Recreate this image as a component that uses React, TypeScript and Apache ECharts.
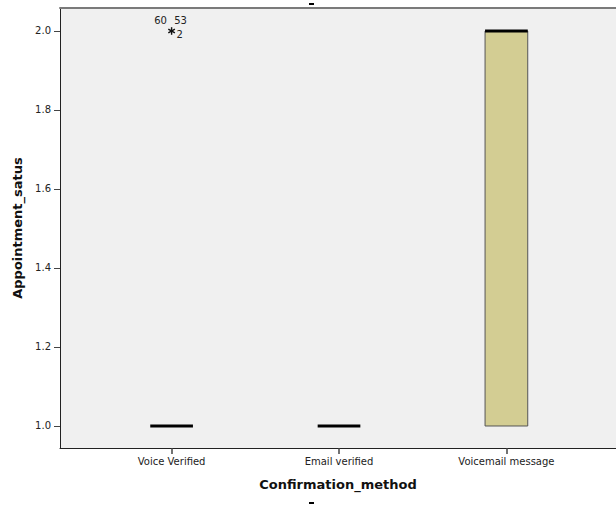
import React, { useEffect, useRef } from 'react';
import * as echarts from 'echarts';

const categories = ['Voice Verified', 'Email verified', 'Voicemail message'];
// per category: [min, q1, median, q3, max]
const boxStats = [
  [1, 1, 1, 1, 1],
  [1, 1, 1, 1, 1],
  [1, 1, 2, 2, 2],
];
const outlierCategory = [0];
const outlierValues = [2];
const outlierIds = [['60', '53', '2']];
const yTicks = [1.0, 1.2, 1.4, 1.6, 1.8, 2.0];
const xTicks = [0, 1, 2];

const FONT = 'DejaVu Sans';
const BOX_W = 0.255;

export default function App() {
  const ref = useRef<HTMLDivElement>(null);
  useEffect(() => {
    if (!ref.current) return;
    const chart = echarts.init(ref.current, undefined, { renderer: 'svg' });
    const option: any = {
      animation: false,
      backgroundColor: '#ffffff',
      grid: {
        left: 60,
        top: 8,
        right: 0,
        bottom: 57,
        show: true,
        backgroundColor: '#f0f0f0',
        borderWidth: 0,
        borderColor: '#f0f0f0',
      },
      xAxis: [
        {
          type: 'value',
          min: -0.6667,
          max: 2.6547,
          position: 'bottom',
          name: 'Confirmation_method',
          nameLocation: 'middle',
          nameGap: 30,
          nameTextStyle: { fontFamily: FONT, fontSize: 13, fontWeight: 'bold', color: '#111' },
          splitLine: { show: false },
          axisLine: { show: true, onZero: false, lineStyle: { color: '#222', width: 1 } },
          axisTick: { show: true, customValues: xTicks, length: 6, lineStyle: { color: '#444', width: 1.5 } },
          axisLabel: {
            customValues: xTicks,
            margin: 8,
            fontFamily: FONT,
            fontSize: 10,
            color: '#222',
            formatter: (v: number) => categories[Math.round(v)] ?? '',
          },
        },
        {
          type: 'value',
          min: -0.6667,
          max: 2.6547,
          position: 'top',
          splitLine: { show: false },
          axisLine: { show: true, onZero: false, lineStyle: { color: '#7a7a7a', width: 2 } },
          axisTick: { show: false },
          axisLabel: { show: false },
        },
      ],
      yAxis: {
        type: 'value',
        min: 0.9443,
        max: 2.0582,
        name: 'Appointment_satus',
        nameLocation: 'middle',
        nameGap: 33,
        nameTextStyle: { fontFamily: FONT, fontSize: 13, fontWeight: 'bold', color: '#111' },
        splitLine: { show: false },
        axisLine: { show: true, onZero: false, lineStyle: { color: '#222', width: 1 } },
        axisTick: { show: true, customValues: yTicks, length: 6, lineStyle: { color: '#444', width: 1 } },
        axisLabel: {
          customValues: yTicks,
          margin: 9,
          fontFamily: FONT,
          fontSize: 10,
          color: '#222',
          formatter: (v: number) => v.toFixed(1),
        },
      },
      series: [
        {
          type: 'custom',
          xAxisIndex: 0,
          data: boxStats.map((s, i) => [i, ...s]),
          renderItem: (params: any, api: any) => {
            const x = api.value(0);
            const mn = api.value(1);
            const q1 = api.value(2);
            const md = api.value(3);
            const q3 = api.value(4);
            const mx = api.value(5);
            const h = BOX_W / 2;
            const children: any[] = [];
            if (mx > q3) {
              const a = api.coord([x, q3]);
              const b = api.coord([x, mx]);
              const l = api.coord([x - h / 2, mx]);
              const r = api.coord([x + h / 2, mx]);
              children.push({ type: 'line', shape: { x1: a[0], y1: a[1], x2: b[0], y2: b[1] }, style: { stroke: '#333', lineWidth: 1 } });
              children.push({ type: 'line', shape: { x1: l[0], y1: l[1], x2: r[0], y2: r[1] }, style: { stroke: '#333', lineWidth: 1 } });
            }
            if (mn < q1) {
              const a = api.coord([x, q1]);
              const b = api.coord([x, mn]);
              const l = api.coord([x - h / 2, mn]);
              const r = api.coord([x + h / 2, mn]);
              children.push({ type: 'line', shape: { x1: a[0], y1: a[1], x2: b[0], y2: b[1] }, style: { stroke: '#333', lineWidth: 1 } });
              children.push({ type: 'line', shape: { x1: l[0], y1: l[1], x2: r[0], y2: r[1] }, style: { stroke: '#333', lineWidth: 1 } });
            }
            if (q3 > q1) {
              const a = api.coord([x - h, q3]);
              const b = api.coord([x + h, q1]);
              children.push({
                type: 'rect',
                shape: { x: a[0], y: a[1], width: b[0] - a[0], height: b[1] - a[1] },
                style: { fill: '#d3cd93', stroke: '#555', lineWidth: 1 },
              });
            }
            const pl = api.coord([x - h, md]);
            const pr = api.coord([x + h, md]);
            children.push({ type: 'line', shape: { x1: pl[0], y1: pl[1], x2: pr[0], y2: pr[1] }, style: { stroke: '#000', lineWidth: 3 } });
            return { type: 'group', children };
          },
        },
        {
          type: 'custom',
          xAxisIndex: 0,
          data: outlierCategory.map((c, i) => [c, outlierValues[i]]),
          renderItem: (params: any, api: any) => {
            const p = api.coord([api.value(0), api.value(1)]);
            const ids = outlierIds[params.dataIndex] || [];
            const children: any[] = [];
            const r = 3.8;
            [90, 30, 150].forEach((deg) => {
              const rad = (deg * Math.PI) / 180;
              const dx = Math.cos(rad) * r;
              const dy = Math.sin(rad) * r;
              children.push({
                type: 'line',
                shape: { x1: p[0] - dx, y1: p[1] - dy, x2: p[0] + dx, y2: p[1] + dy },
                style: { stroke: '#111', lineWidth: 1.4 },
              });
            });
            const offs = [[-11, -10], [9, -10], [8, 4]];
            ids.forEach((t: string, k: number) => {
              const o = offs[k] || [0, 0];
              children.push({
                type: 'text',
                x: p[0] + o[0],
                y: p[1] + o[1],
                style: { text: t, fontFamily: FONT, fontSize: 10, fill: '#222', align: 'center', verticalAlign: 'middle' },
              });
            });
            return { type: 'group', children };
          },
        },
      ],
      graphic: [
        { type: 'rect', shape: { x: 309, y: 3, width: 5, height: 2 }, style: { fill: '#000' } },
        { type: 'rect', shape: { x: 309, y: 502, width: 5, height: 2 }, style: { fill: '#000' } },
      ],
    };
    chart.setOption(option);
    return () => chart.dispose();
  }, []);
  return <div ref={ref} style={{ position: 'fixed', left: 0, top: 0, width: 616, height: 505 }} />;
}
